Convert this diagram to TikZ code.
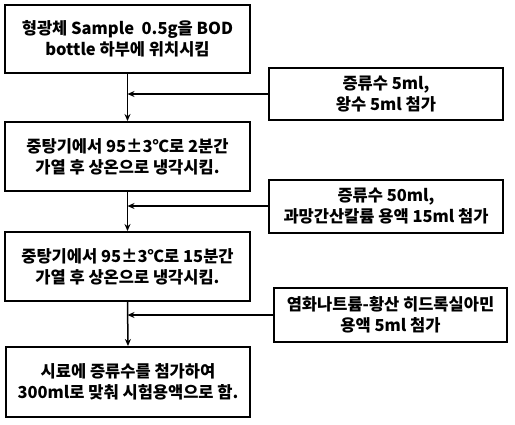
\documentclass[tikz,border=0pt]{standalone}
\usepackage{fontspec}
\setmainfont{Noto Sans CJK KR}
\usetikzlibrary{arrows.meta}
\begin{document}
\begin{tikzpicture}[x=1pt,y=-1pt,
  stepbox/.style={draw=black,line width=2pt,fill=white,align=center,inner sep=0pt,
    font=\bfseries\fontsize{16.5}{21}\selectfont},
  conn/.style={line width=1.5pt,-{Stealth[length=7pt,width=6pt]}}]
\useasboundingbox[fill=white] (0,0) rectangle (515,424);
\node[stepbox,minimum width=245pt,minimum height=68pt] (b1) at (127.5,39) {형광체 Sample\ \ 0.5g을 BOD\\bottle 하부에 위치시킴};
\node[stepbox,minimum width=245pt,minimum height=69pt] (b2) at (127.5,156.5) {중탕기에서 95±3℃로 2분간\\가열 후 상온으로 냉각시킴.};
\node[stepbox,minimum width=245pt,minimum height=69pt] (b3) at (127.5,266.5) {중탕기에서 95±3℃로 15분간\\가열 후 상온으로 냉각시킴.};
\node[stepbox,minimum width=244pt,minimum height=70pt] (b4) at (128,382) {시료에 증류수를 첨가하여\\300ml로 맞춰 시험용액으로 함.};
\node[stepbox,minimum width=234pt,minimum height=52pt] (sa) at (386,94) {증류수 5ml,\\왕수 5ml 첨가};
\node[stepbox,minimum width=234pt,minimum height=53pt] (sb) at (386,206) {증류수 50ml,\\과망간산칼륨 용액 15ml 첨가};
\node[stepbox,minimum width=233pt,minimum height=54pt] (sc) at (390.5,315) {염화나트륨-황산 히드록실아민\\용액 5ml 첨가};
\draw[conn] (b1.south) -- (b2.north);
\draw[conn] (b2.south) -- (b3.north);
\draw[conn] (b3.south) -- (b4.north);
\draw[conn] (sa.west) -- (sa.west -| b1.south);
\draw[conn] (sb.west) -- (sb.west -| b1.south);
\draw[conn] (sc.west) -- (sc.west -| b1.south);
\end{tikzpicture}
\end{document}
